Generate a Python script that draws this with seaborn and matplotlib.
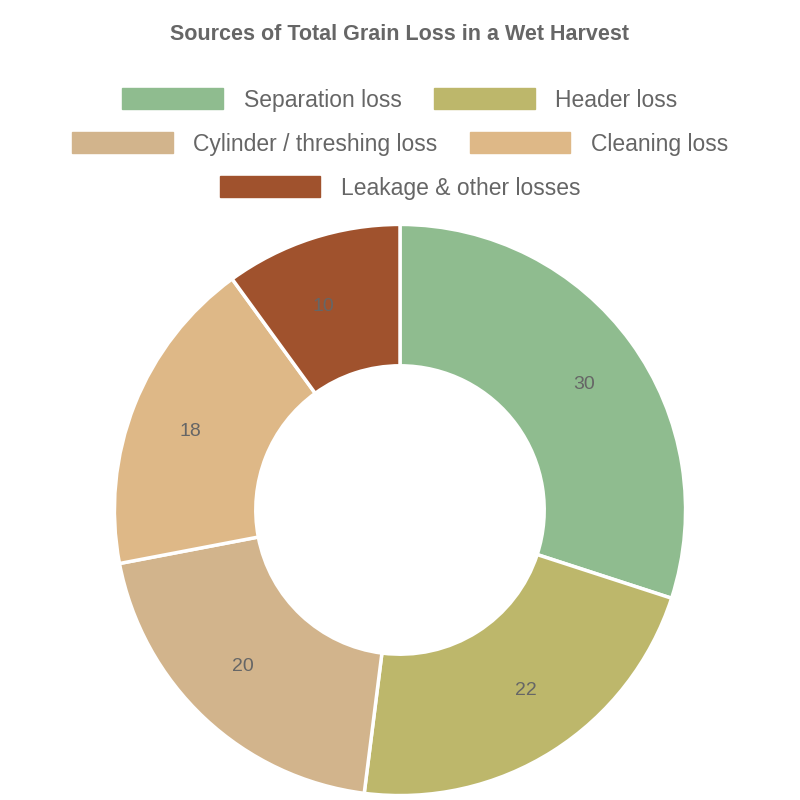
import matplotlib
matplotlib.use("Agg")
import matplotlib.pyplot as plt
import matplotlib.patches as mpatches
import seaborn as sns

sns.set_theme(style="white")
plt.rcParams['font.family'] = ['Liberation Sans', 'DejaVu Sans']

categories = ["Separation loss", "Header loss", "Cylinder / threshing loss",
              "Cleaning loss", "Leakage & other losses"]
values = [30, 22, 20, 18, 10]
colors = ["#8fbc8f", "#bdb76b", "#d2b48c", "#deb887", "#a0522d"]

fig = plt.figure(figsize=(8, 8), dpi=100)
ax = fig.add_axes([113/800, 223/800, 574/800, 574/800])
ax.set_position([113/800, 223/800 - 220/800, 574/800, 574/800])

wedges, texts = ax.pie(values, colors=colors, startangle=90, counterclock=False,
                       labels=[str(v) for v in values], labeldistance=0.75,
                       wedgeprops=dict(width=0.495, edgecolor="white", linewidth=2.5),
                       textprops=dict(color="#666666", fontsize=14))
ax.set_xlim(-1.005, 1.005)
ax.set_ylim(-1.005, 1.005)
ax.set_aspect("equal")

fig.text(0.5, 1 - 34/800, "Sources of Total Grain Loss in a Wet Harvest",
         ha="center", va="center", fontsize=15.5, fontweight="bold", color="#666666")

rows = [[0, 1], [2, 3], [4]]
ys = [100, 144, 188]
for row, y in zip(rows, ys):
    handles = [mpatches.Patch(color=colors[i], label=categories[i]) for i in row]
    leg = fig.legend(handles=handles, loc="center", bbox_to_anchor=(0.5, 1 - y/800),
                     ncol=len(row), frameon=False, fontsize=16.5, handlelength=4.4,
                     handleheight=1.0, columnspacing=1.4, handletextpad=0.9)
    for t in leg.get_texts():
        t.set_color("#666666")

fig.savefig("out.png", dpi=100)
